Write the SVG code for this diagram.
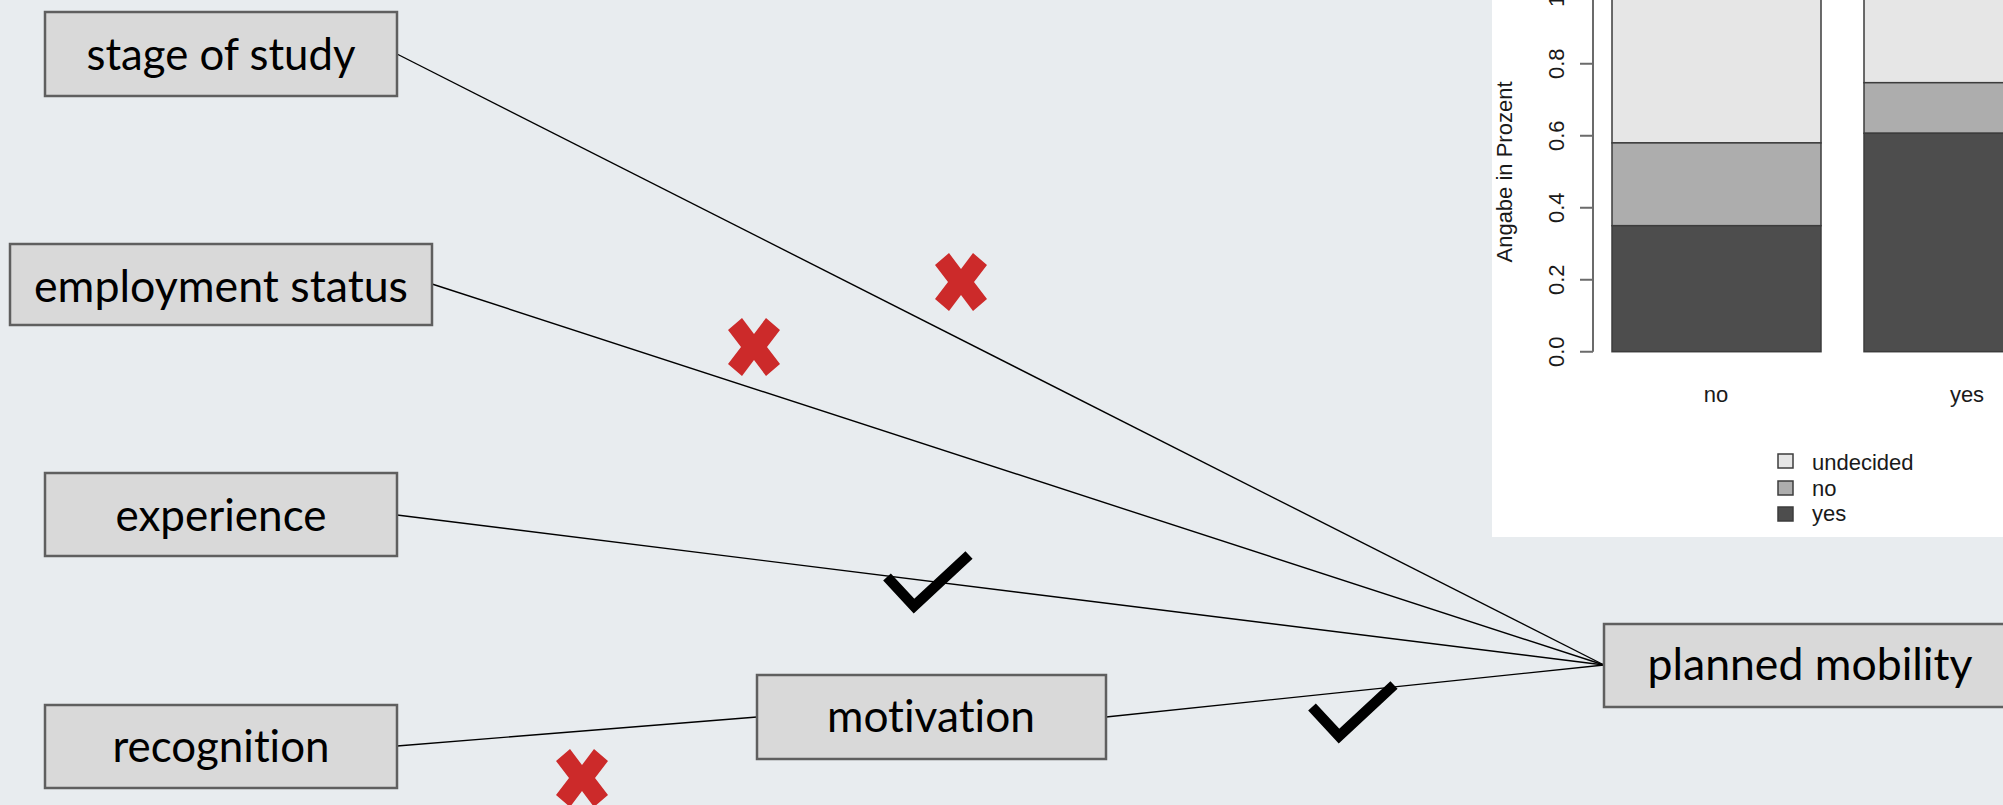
<svg xmlns="http://www.w3.org/2000/svg" xmlns:xlink="http://www.w3.org/1999/xlink" width="2003" height="805" viewBox="0 0 2003 805">
  <style>
    .node rect { fill: #D9D9D9; stroke: #5F5F5F; stroke-width: 2.5; }
    .node text { font-family: Lato, "Open Sans", "Noto Sans", sans-serif; font-size: 44px; fill: #000; text-anchor: middle; font-variant-ligatures: none; }
    .edge { stroke: #000; stroke-width: 1.4; fill: none; }
    .cross { fill: #CC2A2A; }
    .tick { fill: none; stroke: #000; stroke-width: 10.5; stroke-linejoin: miter; stroke-linecap: butt; }
    .chart text { font-family: "Liberation Sans", Arial, sans-serif; font-size: 22px; fill: #1a1a1a; }
    .axis { stroke: #6b6b6b; stroke-width: 2; fill: none; }
    .seg { stroke: #3c3c3c; stroke-width: 1.5; }
    .undecided { fill: #E6E6E6; }
    .no { fill: #ADADAD; }
    .yes { fill: #4D4D4D; }
  </style>
  <defs>
    <path id="cross-mark" d="M-26,-17 L-12,-29 L0,-13 L12,-29 L26,-17 L13,0 L26,17 L12,29 L0,13 L-12,29 L-26,17 L-13,0 Z"/>
    <path id="check-mark" d="M-27,-29 L0,0 L55,-51"/>
  </defs>

  <!-- page background -->
  <rect x="0" y="0" width="2003" height="805" fill="#E8ECEF"/>

  <!-- stacked bar chart, top right -->
  <g id="chart" class="chart">
    <rect x="1492" y="0" width="511" height="537" fill="#FFFFFF"/>
    <!-- bar: no -->
    <rect class="seg undecided" x="1612" y="-8.3" width="209" height="151.2"/>
    <rect class="seg no" x="1612" y="142.9" width="209" height="82.8"/>
    <rect class="seg yes" x="1612" y="225.7" width="209" height="126"/>
    <!-- bar: yes -->
    <rect class="seg undecided" x="1864" y="-8.3" width="209" height="91"/>
    <rect class="seg no" x="1864" y="82.7" width="209" height="50.6"/>
    <rect class="seg yes" x="1864" y="133.3" width="209" height="218.4"/>
    <!-- y axis -->
    <path class="axis" d="M1593,-8.3 V351.7 M1580,351.7 H1593 M1580,279.7 H1593 M1580,207.7 H1593 M1580,135.7 H1593 M1580,63.7 H1593 M1580,-8.3 H1593"/>
    <text text-anchor="middle" transform="translate(1564,351.7) rotate(-90)">0.0</text>
    <text text-anchor="middle" transform="translate(1564,279.7) rotate(-90)">0.2</text>
    <text text-anchor="middle" transform="translate(1564,207.7) rotate(-90)">0.4</text>
    <text text-anchor="middle" transform="translate(1564,135.7) rotate(-90)">0.6</text>
    <text text-anchor="middle" transform="translate(1564,63.7) rotate(-90)">0.8</text>
    <text text-anchor="middle" transform="translate(1564,-8.3) rotate(-90)">1.0</text>
    <text text-anchor="middle" transform="translate(1512,172) rotate(-90)">Angabe in Prozent</text>
    <!-- category labels -->
    <text text-anchor="middle" x="1716" y="402">no</text>
    <text text-anchor="middle" x="1967" y="402">yes</text>
    <!-- legend -->
    <rect class="seg undecided" x="1778" y="454" width="15" height="14"/>
    <rect class="seg no" x="1778" y="481" width="15" height="14"/>
    <rect class="seg yes" x="1778" y="507" width="15" height="14"/>
    <text x="1812" y="470">undecided</text>
    <text x="1812" y="496">no</text>
    <text x="1812" y="521">yes</text>
  </g>

  <!-- connectors -->
  <g id="connectors">
    <line class="edge" x1="397" y1="54" x2="1604" y2="665"/>
    <line class="edge" x1="432" y1="284" x2="1604" y2="665"/>
    <line class="edge" x1="397" y1="515" x2="1604" y2="665"/>
    <line class="edge" x1="397" y1="746" x2="757" y2="717"/>
    <line class="edge" x1="1106" y1="717" x2="1604" y2="665"/>
  </g>

  <!-- nodes -->
  <g id="node-stage" class="node">
    <rect x="45" y="12" width="352" height="84"/>
    <text x="221" y="70" textLength="269" lengthAdjust="spacingAndGlyphs">stage of study</text>
  </g>
  <g id="node-employment" class="node">
    <rect x="10" y="244" width="422" height="81"/>
    <text x="221" y="302" textLength="374" lengthAdjust="spacingAndGlyphs">employment status</text>
  </g>
  <g id="node-experience" class="node">
    <rect x="45" y="473" width="352" height="83"/>
    <text x="221" y="531" textLength="211" lengthAdjust="spacingAndGlyphs">experience</text>
  </g>
  <g id="node-recognition" class="node">
    <rect x="45" y="705" width="352" height="83"/>
    <text x="221" y="762" textLength="217" lengthAdjust="spacingAndGlyphs">recognition</text>
  </g>
  <g id="node-motivation" class="node">
    <rect x="757" y="675" width="349" height="84"/>
    <text x="931" y="732" textLength="208" lengthAdjust="spacingAndGlyphs">motivation</text>
  </g>
  <g id="node-planned-mobility" class="node">
    <rect x="1604" y="624" width="420" height="83"/>
    <text x="1810" y="680" textLength="325" lengthAdjust="spacingAndGlyphs">planned mobility</text>
  </g>

  <!-- significance marks -->
  <g id="marks">
    <use xlink:href="#cross-mark" class="cross" transform="translate(961,282)"/>
    <use xlink:href="#cross-mark" class="cross" transform="translate(754,347)"/>
    <use xlink:href="#cross-mark" class="cross" transform="translate(582,778)"/>
    <use xlink:href="#check-mark" class="tick" transform="translate(914,606)"/>
    <use xlink:href="#check-mark" class="tick" transform="translate(1339,736)"/>
  </g>
</svg>
